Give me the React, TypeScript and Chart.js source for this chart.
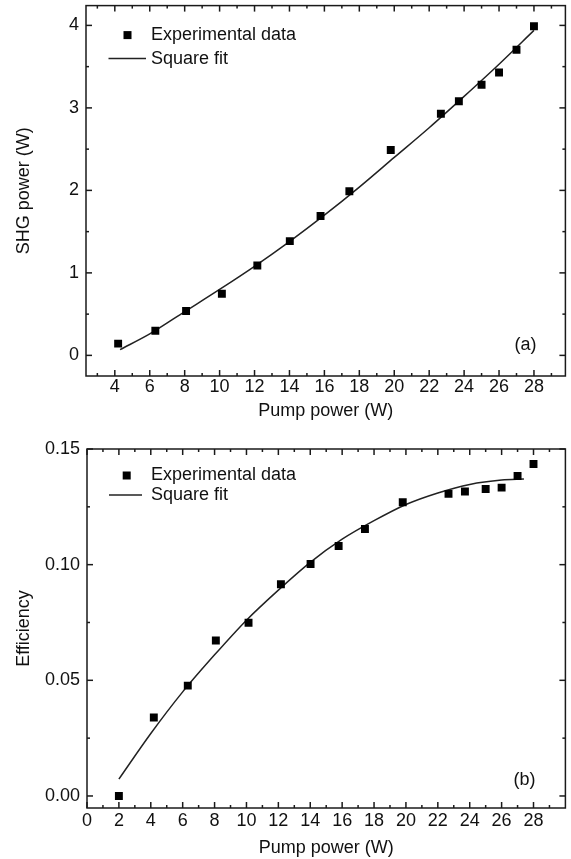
import React, { useEffect, useRef } from 'react';
import { Chart, registerables } from 'chart.js';

Chart.register(...registerables);

const FONT_FAMILY = '"Liberation Sans", Arial, Helvetica, sans-serif';
const FONT_SIZE = 18;
const INK = '#111';

// ---------- Panel (a): SHG power vs pump power ----------
const pumpA = [4.19, 6.32, 8.08, 10.13, 12.16, 14.02, 15.78, 17.43, 19.8, 22.67, 23.7, 25.0, 26.0, 27.0, 28.0];
const shgA = [0.142, 0.299, 0.537, 0.748, 1.09, 1.385, 1.69, 1.99, 2.49, 2.93, 3.08, 3.28, 3.43, 3.705, 3.99];
const fitPumpA = [4.3, 6, 8, 10, 12, 14, 16, 18, 20, 22, 24, 26, 28];
const fitShgA = [0.07, 0.26, 0.53, 0.8, 1.08, 1.38, 1.7, 2.04, 2.4, 2.76, 3.14, 3.53, 3.94];
const xTicksA = [4, 6, 8, 10, 12, 14, 16, 18, 20, 22, 24, 26, 28];
const xMinorA = [3, 5, 7, 9, 11, 13, 15, 17, 19, 21, 23, 25, 27, 29];
const yTicksA = [0, 1, 2, 3, 4];
const yTickLabelsA = ['0', '1', '2', '3', '4'];
const yMinorA = [0.5, 1.5, 2.5, 3.5];

// ---------- Panel (b): efficiency vs pump power ----------
const pumpB = [2.0, 4.19, 6.32, 8.08, 10.13, 12.16, 14.02, 15.78, 17.43, 19.8, 22.67, 23.7, 25.0, 26.0, 27.0, 28.0];
const effB = [0.0, 0.0339, 0.0477, 0.0672, 0.0749, 0.0915, 0.1003, 0.1081, 0.1154, 0.127, 0.1306, 0.1316, 0.1327, 0.1333, 0.1383, 0.1435];
const fitPumpB = [2, 4, 6, 8, 10, 12, 14, 16, 18, 20, 22, 24, 26, 27.4];
const fitEffB = [0.0073, 0.027, 0.045, 0.061, 0.076, 0.089, 0.101, 0.111, 0.119, 0.126, 0.131, 0.1347, 0.1366, 0.137];
const xTicksB = [0, 2, 4, 6, 8, 10, 12, 14, 16, 18, 20, 22, 24, 26, 28];
const xMinorB = [1, 3, 5, 7, 9, 11, 13, 15, 17, 19, 21, 23, 25, 27, 29];
const yTicksB = [0, 0.05, 0.1, 0.15];
const yTickLabelsB = ['0.00', '0.05', '0.10', '0.15'];
const yMinorB = [0.025, 0.075, 0.125];

const legendLabels = ['Experimental data', 'Square fit'];
const xTitle = 'Pump power (W)';

const frameTicks = {
  id: 'frameTicks',
  afterDatasetsDraw(chart: any, _args: any, o: any) {
    const { ctx, chartArea, scales } = chart;
    const { left, right, top, bottom } = chartArea;
    const x = scales.x;
    const y = scales.y;
    ctx.save();
    ctx.strokeStyle = '#1a1a1a';
    ctx.lineWidth = 1.5;
    ctx.strokeRect(left, top, right - left, bottom - top);
    const seg = (x0: number, y0: number, x1: number, y1: number) => {
      ctx.beginPath();
      ctx.moveTo(x0, y0);
      ctx.lineTo(x1, y1);
      ctx.stroke();
    };
    const drawX = (vals: number[], len: number) => {
      vals.forEach((v) => {
        const p = x.getPixelForValue(v);
        if (p < left - 0.5 || p > right + 0.5) return;
        seg(p, bottom, p, bottom - len);
        seg(p, top, p, top + len);
      });
    };
    const drawY = (vals: number[], len: number) => {
      vals.forEach((v) => {
        const p = y.getPixelForValue(v);
        if (p < top - 0.5 || p > bottom + 0.5) return;
        seg(left, p, left + len, p);
        seg(right, p, right - len, p);
      });
    };
    drawX(o.xMajor, 6);
    drawX(o.xMinor, 3);
    drawY(o.yMajor, 6);
    drawY(o.yMinor, 3);
    ctx.restore();
  },
};

const insideLegend = {
  id: 'insideLegend',
  afterDraw(chart: any, _args: any, o: any) {
    const { ctx, chartArea } = chart;
    const ds = chart.data.datasets;
    const L = chartArea.left;
    const T = chartArea.top;
    ctx.save();
    ctx.font = `${FONT_SIZE}px ${FONT_FAMILY}`;
    ctx.textBaseline = 'middle';
    ctx.textAlign = 'left';
    const s = 8;
    ctx.fillStyle = '#000';
    ctx.fillRect(L + o.markerX - s / 2, T + o.row1 - s / 2, s, s);
    ctx.fillStyle = INK;
    ctx.fillText(ds[0].label, L + o.textX, T + o.row1);
    ctx.strokeStyle = '#222';
    ctx.lineWidth = 1.5;
    ctx.beginPath();
    ctx.moveTo(L + o.lineX0, T + o.row2);
    ctx.lineTo(L + o.lineX1, T + o.row2);
    ctx.stroke();
    ctx.fillText(ds[1].label, L + o.textX, T + o.row2);
    ctx.textAlign = 'right';
    ctx.fillText(o.tag, chartArea.right + o.tagDX, chartArea.bottom + o.tagDY);
    ctx.restore();
  },
};

function makeConfig(p: any) {
  const font = { family: FONT_FAMILY, size: FONT_SIZE };
  return {
    type: 'scatter',
    data: {
      datasets: [
        {
          label: legendLabels[0],
          data: p.px.map((v: number, i: number) => ({ x: v, y: p.py[i] })),
          pointStyle: 'rect',
          pointRadius: 5.6,
          pointBackgroundColor: '#000',
          pointBorderColor: '#000',
          pointBorderWidth: 0,
          showLine: false,
        },
        {
          label: legendLabels[1],
          data: p.fx.map((v: number, i: number) => ({ x: v, y: p.fy[i] })),
          showLine: true,
          pointRadius: 0,
          borderColor: '#222',
          borderWidth: 1.5,
          cubicInterpolationMode: 'monotone',
          fill: false,
        },
      ],
    },
    options: {
      animation: false,
      responsive: false,
      maintainAspectRatio: false,
      events: [],
      layout: { padding: { top: p.padTop, right: 2, left: 0, bottom: 0 } },
      plugins: {
        legend: { display: false },
        tooltip: { enabled: false },
        frameTicks: { xMajor: p.xTicks, xMinor: p.xMinor, yMajor: p.yTicks, yMinor: p.yMinor },
        insideLegend: p.legend,
      },
      scales: {
        x: {
          type: 'linear',
          min: p.xMin,
          max: p.xMax,
          afterBuildTicks: (s: any) => {
            s.ticks = p.xTicks.map((v: number) => ({ value: v }));
          },
          afterFit: (s: any) => {
            s.height = p.xAxisH;
            s.paddingLeft = 0;
            s.paddingRight = 0;
          },
          grid: { display: false, drawTicks: false },
          border: { display: false },
          ticks: {
            padding: p.xTickPad,
            color: INK,
            font,
            maxRotation: 0,
            autoSkip: false,
            callback: (v: number) => String(v),
          },
          title: { display: true, text: xTitle, color: INK, font, padding: { top: 0, bottom: p.xTitlePad } },
        },
        y: {
          type: 'linear',
          min: p.yMin,
          max: p.yMax,
          afterBuildTicks: (s: any) => {
            s.ticks = p.yTicks.map((v: number) => ({ value: v }));
          },
          afterFit: (s: any) => {
            s.width = p.yAxisW;
            s.paddingTop = 0;
            s.paddingBottom = 0;
          },
          grid: { display: false, drawTicks: false },
          border: { display: false },
          ticks: {
            padding: 7,
            color: INK,
            font,
            autoSkip: false,
            callback: (v: number) => {
              const i = p.yTicks.indexOf(v);
              return i >= 0 ? p.yLabels[i] : '';
            },
          },
          title: { display: true, text: p.yTitle, color: INK, font, padding: { top: 13.2, bottom: 0 } },
        },
      },
    },
    plugins: [frameTicks, insideLegend],
  };
}

function Panel(props: { cfg: any; width: number; height: number; top: number }) {
  const ref = useRef<HTMLCanvasElement | null>(null);
  useEffect(() => {
    if (!ref.current) return;
    const chart = new Chart(ref.current, makeConfig(props.cfg) as any);
    return () => chart.destroy();
  }, []);
  return (
    <canvas
      ref={ref}
      width={props.width}
      height={props.height}
      style={{ position: 'absolute', left: 0, top: props.top, width: props.width, height: props.height, display: 'block' }}
    />
  );
}

const panelA = {
  px: pumpA, py: shgA, fx: fitPumpA, fy: fitShgA,
  xTicks: xTicksA, xMinor: xMinorA, yTicks: yTicksA, yMinor: yMinorA, yLabels: yTickLabelsA,
  xMin: 2.35, xMax: 29.8, yMin: -0.25, yMax: 4.24,
  yTitle: 'SHG power (W)',
  padTop: 5, xAxisH: 54, yAxisW: 86, xTickPad: 0.7, xTitlePad: 8.2,
  legend: { markerX: 41.5, textX: 65, lineX0: 22.5, lineX1: 60, row1: 29.5, row2: 53, tag: '(a)', tagDX: -29, tagDY: -31 },
};

const panelB = {
  px: pumpB, py: effB, fx: fitPumpB, fy: fitEffB,
  xTicks: xTicksB, xMinor: xMinorB, yTicks: yTicksB, yMinor: yMinorB, yLabels: yTickLabelsB,
  xMin: 0, xMax: 30, yMin: -0.0052, yMax: 0.15,
  yTitle: 'Efficiency',
  padTop: 19, xAxisH: 51, yAxisW: 87, xTickPad: 2.4, xTitlePad: 0.2,
  legend: { markerX: 39.7, textX: 64, lineX0: 22, lineX1: 55, row1: 26.5, row2: 46, tag: '(b)', tagDX: -30, tagDY: -28 },
};

export default function App() {
  return (
    <div style={{ position: 'absolute', left: 0, top: 0, width: 571, height: 859, background: '#fff', overflow: 'hidden' }}>
      <Panel cfg={panelA} width={571} height={430} top={0} />
      <Panel cfg={panelB} width={571} height={429} top={430} />
    </div>
  );
}
